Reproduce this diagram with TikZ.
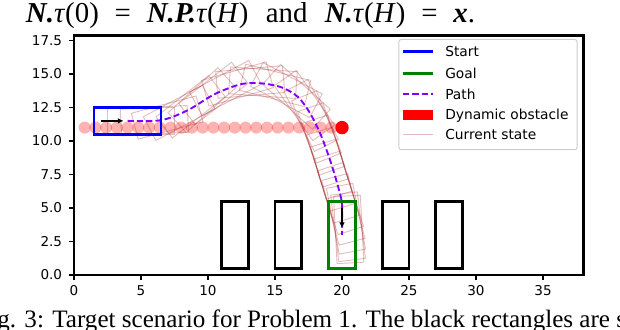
\documentclass[tikz,border=0pt]{standalone}
\usepackage{fontspec}
\setmainfont{Liberation Serif}
\newfontfamily\plotfont{DejaVu Sans}
\usetikzlibrary{arrows.meta,positioning}
\definecolor{cstart}{HTML}{0000FF}
\definecolor{cgoal}{HTML}{008000}
\definecolor{cpath}{HTML}{8000FF}
\definecolor{cobst}{HTML}{FF0000}
\definecolor{cstate}{HTML}{A52A2A}
\definecolor{cframe}{HTML}{CCCCCC}

\begin{document}
\begin{tikzpicture}[x=0.4cm, y=0.4cm,
    box/.style={line width=2.3pt},
    statebox/.style={cstate, draw opacity=0.3, line width=0.8pt},
    pathline/.style={cpath, line width=1.6pt, dash pattern=on 5.3pt off 2.6pt},
    pose/.style={-{Latex[length=1.7mm, width=1.7mm]}, black, line width=1.5pt},
    tickmark/.style={line width=1pt},
    ticklab/.style={font=\plotfont\fontsize{11.5}{13}\selectfont, inner sep=0pt},
    leglab/.style={font=\plotfont\fontsize{11.7}{14}\selectfont, anchor=base west, inner sep=0pt}]
  \useasboundingbox (-5.522,-4.104) rectangle (40.746,20.522);

  \foreach \k in {1,...,24}
    \fill[cobst, fill opacity=0.3] (0.8*\k,11) circle (0.45);
  \fill[cobst] (20,11) circle (0.5);

  \foreach \x/\y/\a in {4/11.5/0, 5/11.5/0, 6/11.52/3, 6.95/11.75/15, 7.85/12.1/28, 8.7/12.55/38,
      9.55/13.05/42, 10.4/13.55/38, 11.3/13.95/28, 12.2/14.25/16, 13.15/14.4/5, 14.1/14.35/-4,
      15.0/14.15/-14, 15.85/13.8/-28, 16.6/13.3/-42, 17.2/12.65/-55, 17.7/11.9/-63, 18.1/11.05/-68,
      18.45/10.15/-71, 18.75/9.25/-72, 19.05/8.35/-73, 19.33/7.45/-73, 19.6/6.55/-73, 19.88/5.7/-72,
      20.1/4.9/-75, 20.3/4.2/-79, 20.45/3.6/-83, 20.5/3.4/-87}
    \draw[statebox, shift={(\x,\y)}, rotate=\a] (-2.5,-1) rectangle (2.5,1);

  \draw[pathline] plot[smooth] coordinates {(4,11.5) (6.5,11.55) (8.5,12.3) (10.5,13.5) (12.5,14.25)
      (14,14.3) (15.5,14.0) (16.7,13.3) (17.6,12.1) (18.4,10.5) (19.1,8.6) (19.65,6.8) (20,5.3) (20,3)};

  \foreach \x in {11,15,23,27}
    \draw[box] (\x,0.5) rectangle ++(2,5);
  \draw[box, cgoal] (19,0.5) rectangle (21,5.5);
  \draw[box, cstart] (1.5,10.5) rectangle (6.5,12.5);

  \coordinate (st0) at (2,11.5);
  \coordinate (st1) at (3.7,11.5);
  \coordinate (gl0) at (20,5);
  \coordinate (gl1) at (20,3.5);
  \draw[pose] (st0) -- (st1);
  \draw[pose] (gl0) -- (gl1);

  \draw[line width=2.5pt] (0,0) rectangle (38,17.9);
  \foreach \x in {0,5,...,35} {
    \draw[tickmark] (\x,0) -- (\x,-0.37);
    \node[ticklab, anchor=base] (xl\x) at (\x,-1.52) {\x};
  }
  \foreach \y/\t [count=\i] in {0/0.0, 2.5/2.5, 5/5.0, 7.5/7.5, 10/10.0, 12.5/12.5, 15/15.0, 17.5/17.5} {
    \draw[tickmark] (0,\y) -- (-0.37,\y);
    \node[ticklab, anchor=base east] (yl\i) at (-0.87,\y-0.34) {\t};
  }

  \draw[cframe, line width=0.8pt, rounded corners=2pt, fill=white] (24.25,9.35) rectangle (37.54,17.58);
  \draw[box, cstart] (24.55,16.66) -- (26.79,16.66);
  \draw[box, cgoal] (24.55,15.05) -- (26.79,15.05);
  \draw[pathline] (24.55,13.49) -- (26.79,13.49);
  \fill[cobst] (24.55,11.57) rectangle (26.79,12.31);
  \draw[statebox] (24.55,10.45) -- (26.79,10.45);
  \foreach \t/\y [count=\i] in {Start/16.66, Goal/15.05, Path/13.49, Dynamic obstacle/11.94, Current state/10.45}
    \node[leglab] (leg\i) at (27.69,\y-0.37) {\t};

  \node[anchor=base west, inner sep=0pt, font=\fontsize{24.5}{28}\selectfont] (eqline) at (-3.6,18.85)
    {\textbf{\textit{N.}}\textit{τ}(0)\hspace{0.55em}=\hspace{0.55em}\textbf{\textit{N.P.}}\textit{τ}(\textit{H})\hspace{0.6em}and\hspace{0.6em}\textbf{\textit{N.}}\textit{τ}(\textit{H})\hspace{0.55em}=\hspace{0.55em}\textbf{\textit{x}}.};
  \node[anchor=base west, inner sep=0pt, font=\fontsize{21.3}{25}\selectfont] (caption) at (-7.3,-3.9)
    {Fig. 3: Target scenario for Problem 1. The black rectangles are static};
\end{tikzpicture}
\end{document}
